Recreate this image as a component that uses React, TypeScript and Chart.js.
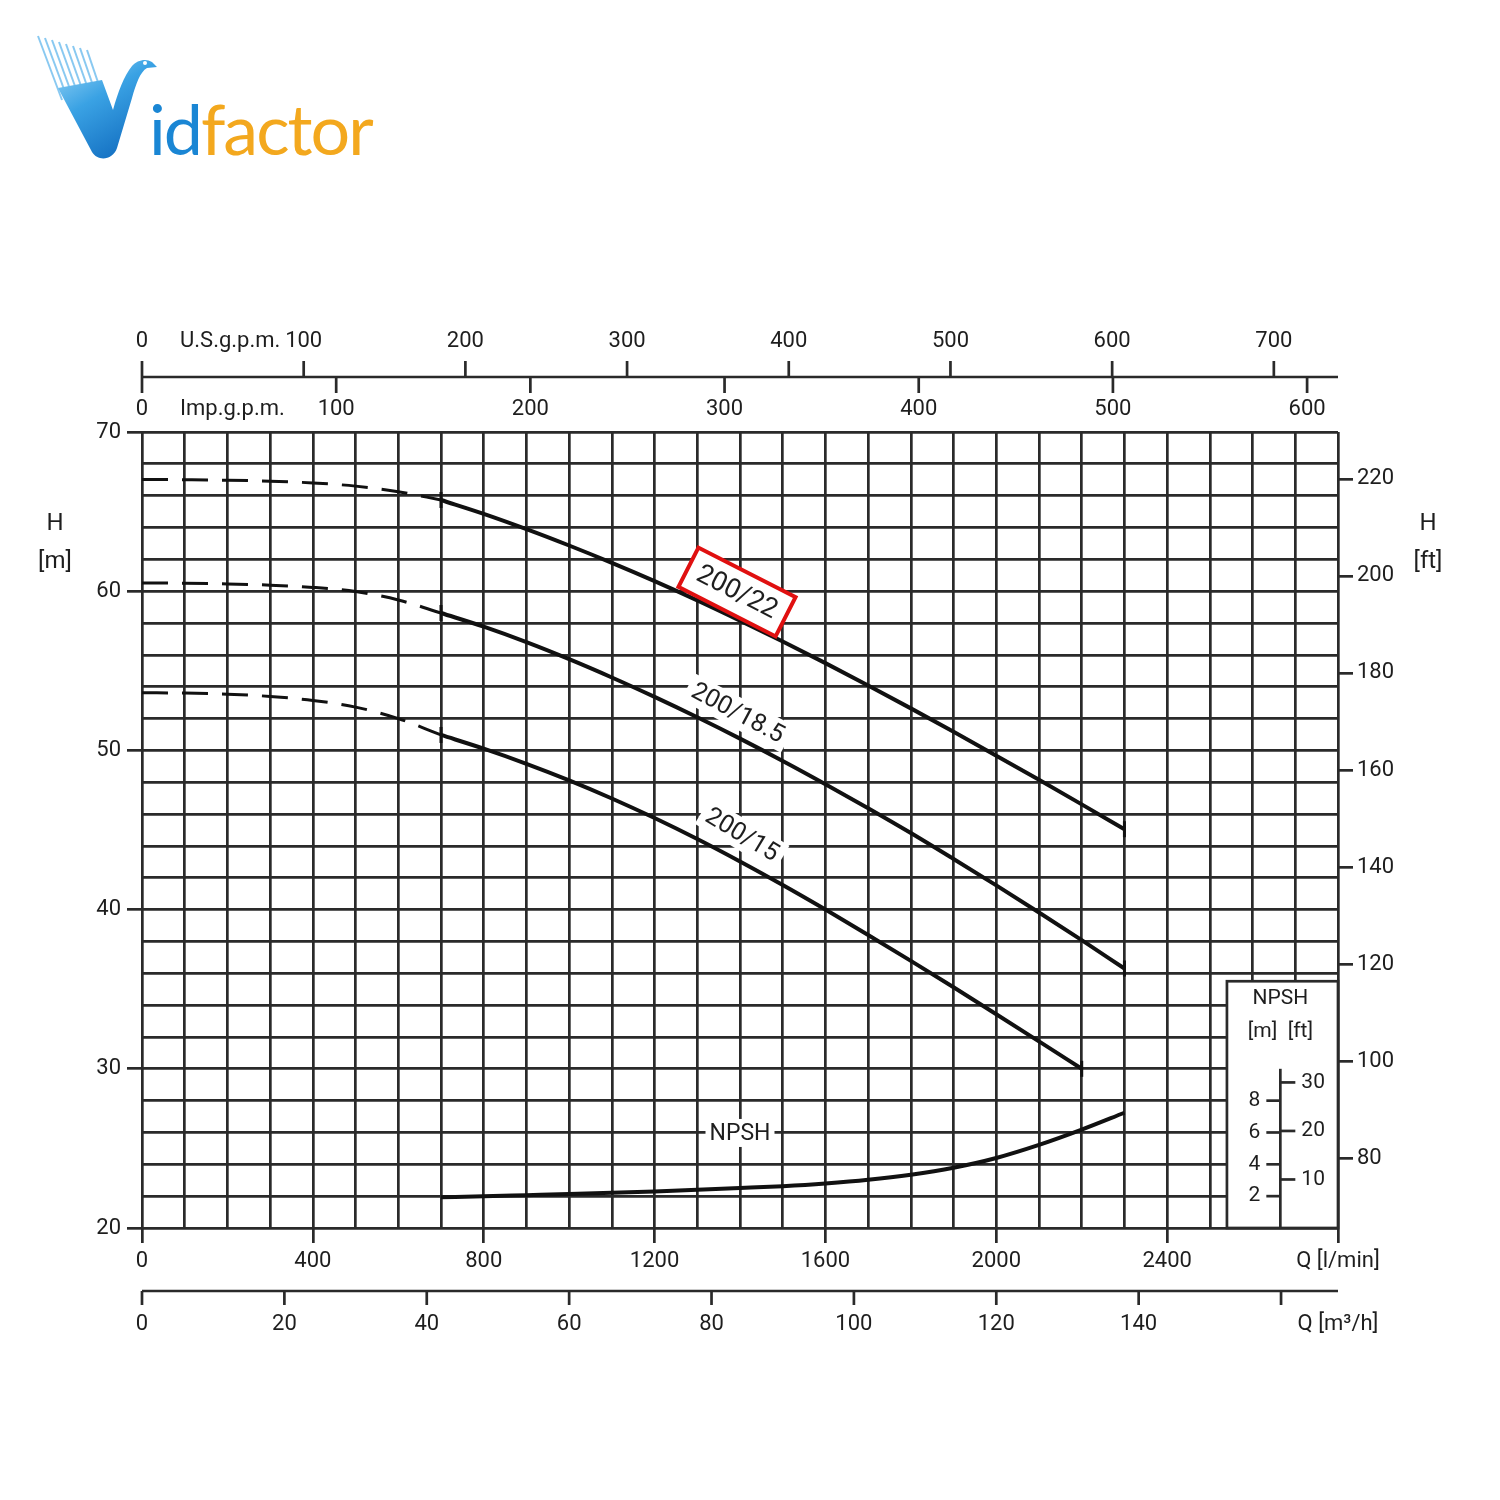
import React, { useEffect, useRef } from "react";
import { Chart, registerables } from "chart.js";

Chart.register(...registerables);

const FONT = "Roboto, 'DejaVu Sans', sans-serif";
const INK = "#1e1e1e";
const GRID = "#2a2a2a";
const GRID_W = 2.7;

// ---- pump curves: Q [l/min] -> H [m] ----
const Q_DASH = [0, 100, 200, 300, 400, 500, 600, 700];
const H_22_DASH = [67.02, 67.0, 66.97, 66.91, 66.8, 66.6, 66.25, 65.73];
const H_185_DASH = [60.52, 60.5, 60.46, 60.38, 60.24, 59.98, 59.45, 58.63];
const H_15_DASH = [53.62, 53.6, 53.53, 53.39, 53.14, 52.72, 52.0, 50.97];

const Q_SOLID = [700, 800, 900, 1000, 1100, 1200, 1300, 1400, 1500, 1600, 1700, 1800, 1900, 2000, 2100, 2200, 2300];
const H_22 = [65.73, 64.86, 63.9, 62.87, 61.78, 60.63, 59.42, 58.15, 56.84, 55.48, 54.08, 52.64, 51.17, 49.67, 48.15, 46.61, 45.05];
const H_185 = [58.63, 57.77, 56.8, 55.73, 54.58, 53.36, 52.08, 50.74, 49.34, 47.88, 46.37, 44.81, 43.18, 41.52, 39.82, 38.08, 36.3];
const Q_SOLID_15 = [700, 800, 900, 1000, 1100, 1200, 1300, 1400, 1500, 1600, 1700, 1800, 1900, 2000, 2100, 2200];
const H_15 = [50.97, 50.11, 49.16, 48.12, 46.98, 45.75, 44.43, 43.02, 41.54, 40.0, 38.41, 36.78, 35.12, 33.43, 31.72, 30.0];

// ---- NPSH [m] ----
const NPSH_Q = [700, 800, 900, 1000, 1100, 1200, 1300, 1400, 1500, 1600, 1700, 1800, 1900, 2000, 2100, 2200, 2300];
const NPSH_M = [1.93, 1.99, 2.06, 2.13, 2.21, 2.3, 2.4, 2.51, 2.63, 2.8, 3.03, 3.35, 3.79, 4.4, 5.22, 6.18, 7.24];

// ---- axes / ticks ----
const Q_MIN = 0;
const Q_MAX = 2800;
const Q_GRID_STEP = 100;
const Q_LABEL_STEP = 400;
const Q_UNIT = "Q [l/min]";
const H_MIN = 20;
const H_MAX = 70;
const H_GRID_STEP = 2;
const H_LABEL_STEP = 10;
const FT_PER_M = 0.3048;
const H_FT_TICKS = [80, 100, 120, 140, 160, 180, 200, 220];
const US_GPM_TICKS = [0, 100, 200, 300, 400, 500, 600, 700];
const IMP_GPM_TICKS = [0, 100, 200, 300, 400, 500, 600];
const M3H_TICKS = [0, 20, 40, 60, 80, 100, 120, 140];
const M3H_EXTRA_TICK = 160;
const US_GPM_L = 3.785411784;
const IMP_GPM_L = 4.54609;
const M3H_L = 1000 / 60;
const NPSH_M_TICKS = [2, 4, 6, 8];
const NPSH_FT_TICKS = [10, 20, 30];
const NPSH_SCALE_TOP = 10;

// ---- annotations (data units) ----
const CURVE_LABELS = [
  { text: "200/22", q: 1393, h: 59.95, angle: 27, boxed: true },
  { text: "200/18.5", q: 1395, h: 52.35, angle: 28, boxed: false },
  { text: "200/15", q: 1405, h: 44.7, angle: 31, boxed: false },
];
const NPSH_LABEL = { text: "NPSH", q: 1400, npsh: 5.97 };
const NPSH_BOX = { qLeft: 2540, hTop: 35.5, qAxis: 2665 };

function pts(qs: number[], hs: number[]) {
  return qs.map((q, i) => ({ x: q, y: hs[i] }));
}

function curve(label: string, qs: number[], hs: number[], dashed: boolean, endTicks: boolean, axis = "y") {
  return {
    label,
    data: pts(qs, hs),
    yAxisID: axis,
    borderColor: "#111",
    backgroundColor: "#111",
    borderWidth: dashed ? 3 : 4,
    borderDash: dashed ? [26, 14] : [],
    cubicInterpolationMode: "monotone",
    fill: false,
    pointStyle: "line",
    rotation: 90,
    pointBorderWidth: 3,
    pointBorderColor: "#111",
    pointRadius: endTicks ? qs.map((_, i) => (i === 0 || i === qs.length - 1 ? 8 : 0)) : 0,
    pointHoverRadius: 0,
  };
}

const overlay = {
  id: "overlay",
  beforeDatasetsDraw(chart: any) {
    const { ctx, chartArea: a } = chart;
    const x = chart.scales.x;
    const y = chart.scales.y;
    const n = chart.scales.npsh;
    // NPSH inset box
    const l = x.getPixelForValue(NPSH_BOX.qLeft);
    const t = y.getPixelForValue(NPSH_BOX.hTop);
    ctx.save();
    ctx.fillStyle = "#fff";
    ctx.fillRect(l, t, a.right - l, a.bottom - t);
    ctx.strokeStyle = GRID;
    ctx.lineWidth = GRID_W;
    ctx.strokeRect(l, t, a.right - l, a.bottom - t);
    // inset scale
    const ax = x.getPixelForValue(NPSH_BOX.qAxis);
    ctx.beginPath();
    ctx.moveTo(ax, n.getPixelForValue(0));
    ctx.lineTo(ax, n.getPixelForValue(NPSH_SCALE_TOP));
    ctx.stroke();
    ctx.fillStyle = INK;
    ctx.font = `21px ${FONT}`;
    ctx.textBaseline = "middle";
    NPSH_M_TICKS.forEach((v) => {
      const py = n.getPixelForValue(v);
      ctx.beginPath();
      ctx.moveTo(ax - 14, py);
      ctx.lineTo(ax, py);
      ctx.stroke();
      ctx.textAlign = "right";
      ctx.fillText(String(v), ax - 20, py);
    });
    NPSH_FT_TICKS.forEach((v) => {
      const py = n.getPixelForValue(v * FT_PER_M);
      ctx.beginPath();
      ctx.moveTo(ax, py);
      ctx.lineTo(ax + 15, py);
      ctx.stroke();
      ctx.textAlign = "left";
      ctx.fillText(String(v), ax + 21, py);
    });
    ctx.textAlign = "center";
    ctx.fillText("NPSH", ax, t + 18);
    ctx.fillText("[m]  [ft]", ax, t + 51);
    ctx.restore();
  },
  afterDatasetsDraw(chart: any) {
    const { ctx } = chart;
    const x = chart.scales.x;
    const y = chart.scales.y;
    const n = chart.scales.npsh;
    ctx.save();
    ctx.textAlign = "center";
    ctx.textBaseline = "middle";
    CURVE_LABELS.forEach((c) => {
      const px = x.getPixelForValue(c.q);
      const py = y.getPixelForValue(c.h);
      ctx.save();
      ctx.translate(px, py);
      ctx.rotate((c.angle * Math.PI) / 180);
      ctx.font = `${c.boxed ? 27 : 25}px ${FONT}`;
      const w = ctx.measureText(c.text).width;
      ctx.fillStyle = "#fff";
      if (c.boxed) {
        const bw = w + 22;
        ctx.fillRect(-bw / 2, -22, bw, 44);
        ctx.strokeStyle = "#e01010";
        ctx.lineWidth = 4;
        ctx.strokeRect(-bw / 2, -22, bw, 44);
      } else {
        ctx.fillRect(-w / 2 - 6, -15, w + 12, 30);
      }
      ctx.fillStyle = INK;
      ctx.fillText(c.text, 0, 1);
      ctx.restore();
    });
    // NPSH label
    const px = x.getPixelForValue(NPSH_LABEL.q);
    const py = n.getPixelForValue(NPSH_LABEL.npsh);
    ctx.font = `23px ${FONT}`;
    const w = ctx.measureText(NPSH_LABEL.text).width;
    ctx.fillStyle = "#fff";
    ctx.fillRect(px - w / 2 - 4, py - 14, w + 8, 28);
    ctx.fillStyle = INK;
    ctx.fillText(NPSH_LABEL.text, px, py + 1);
    ctx.restore();
  },
  afterDraw(chart: any) {
    const { ctx, chartArea: a } = chart;
    const x = chart.scales.x;
    ctx.save();
    ctx.strokeStyle = GRID;
    ctx.lineWidth = GRID_W;
    ctx.fillStyle = INK;
    ctx.font = `22px ${FONT}`;
    ctx.textBaseline = "middle";
    // top: U.S.g.p.m. (above) and Imp.g.p.m. (below)
    const yTop = a.top - 55;
    const x0 = x.getPixelForValue(0);
    ctx.beginPath();
    ctx.moveTo(x0, yTop);
    ctx.lineTo(a.right, yTop);
    ctx.stroke();
    US_GPM_TICKS.forEach((v) => {
      const px = x.getPixelForValue(v * US_GPM_L);
      ctx.beginPath();
      ctx.moveTo(px, yTop);
      ctx.lineTo(px, yTop - 16);
      ctx.stroke();
      ctx.textAlign = "center";
      ctx.fillText(String(v), px, yTop - 36);
    });
    IMP_GPM_TICKS.forEach((v) => {
      const px = x.getPixelForValue(v * IMP_GPM_L);
      ctx.beginPath();
      ctx.moveTo(px, yTop);
      ctx.lineTo(px, yTop + 16);
      ctx.stroke();
      ctx.textAlign = "center";
      ctx.fillText(String(v), px, yTop + 32);
    });
    ctx.textAlign = "left";
    ctx.fillText("U.S.g.p.m.", x0 + 38, yTop - 36);
    ctx.fillText("Imp.g.p.m.", x0 + 38, yTop + 32);
    // bottom: m3/h
    const yBot = a.bottom + 63;
    ctx.beginPath();
    ctx.moveTo(x0, yBot);
    ctx.lineTo(a.right, yBot);
    ctx.stroke();
    [...M3H_TICKS, M3H_EXTRA_TICK].forEach((v) => {
      const px = x.getPixelForValue(v * M3H_L);
      ctx.beginPath();
      ctx.moveTo(px, yBot);
      ctx.lineTo(px, yBot + 14);
      ctx.stroke();
    });
    ctx.textAlign = "center";
    M3H_TICKS.forEach((v) => {
      ctx.fillText(String(v), x.getPixelForValue(v * M3H_L), yBot + 33);
    });
    ctx.fillText("Q [m³/h]", a.right, yBot + 33);
    ctx.restore();
  },
};

function Logo() {
  const streaks = [0, 1, 2, 3, 4, 5, 6, 7];
  return (
    <div style={{ position: "absolute", left: 0, top: 0, width: 420, height: 200 }}>
      <svg width={420} height={200} style={{ position: "absolute", left: 0, top: 0 }}>
        <defs>
          <linearGradient id="vg" x1="0" y1="0" x2="0.6" y2="1">
            <stop offset="0" stopColor="#9ad6f6" />
            <stop offset="0.45" stopColor="#3aa2e4" />
            <stop offset="1" stopColor="#1470c2" />
          </linearGradient>
        </defs>
        {streaks.map((i) => (
          <line
            key={i}
            x1={38 + i * 7}
            y1={36 + i * 2}
            x2={62 + i * 6}
            y2={100}
            stroke="#6cbcee"
            strokeWidth={2}
            opacity={0.8}
          />
        ))}
        <path
          d="M 58 88 L 102 80 L 113 110 C 118 92 124 76 132 66 C 137 60 146 58 152 62 L 157 67 L 147 68 C 140 72 136 84 132 98 L 117 148 C 113 160 98 162 92 152 Z"
          fill="url(#vg)"
        />
        <circle cx={145} cy={63} r={2} fill="#fff" />
      </svg>
      <div
        style={{
          position: "absolute",
          left: 149,
          top: 93,
          font: "400 70px Lato, sans-serif",
          lineHeight: "70px",
          letterSpacing: -2,
          whiteSpace: "nowrap",
        }}
      >
        <span style={{ color: "#1a86d4" }}>id</span>
        <span style={{ color: "#f3a81e" }}>factor</span>
      </div>
    </div>
  );
}

export default function App() {
  const ref = useRef<HTMLCanvasElement>(null);

  useEffect(() => {
    const canvas = ref.current;
    if (!canvas) return;
    Chart.defaults.font.family = FONT;
    Chart.defaults.color = INK;
    const datasets: any[] = [
      curve("200/22 (extrapolated)", Q_DASH, H_22_DASH, true, false),
      curve("200/22", Q_SOLID, H_22, false, true),
      curve("200/18.5 (extrapolated)", Q_DASH, H_185_DASH, true, false),
      curve("200/18.5", Q_SOLID, H_185, false, true),
      curve("200/15 (extrapolated)", Q_DASH, H_15_DASH, true, false),
      curve("200/15", Q_SOLID_15, H_15, false, true),
      curve("NPSH", NPSH_Q, NPSH_M, false, false, "npsh"),
    ];
    const tickFont = { family: FONT, size: 22 };
    const chart = new Chart(canvas, {
      type: "line",
      data: { datasets },
      options: {
        responsive: false,
        animation: false,
        devicePixelRatio: 1,
        layout: { padding: { top: 432, left: 0, right: 0, bottom: 0 } },
        plugins: { legend: { display: false }, tooltip: { enabled: false } },
        events: [],
        scales: {
          x: {
            type: "linear",
            position: "bottom",
            min: Q_MIN,
            max: Q_MAX,
            ticks: {
              stepSize: Q_GRID_STEP,
              autoSkip: false,
              maxRotation: 0,
              padding: 5,
              color: INK,
              font: tickFont,
              callback: (v: any) => (v === Q_MAX ? Q_UNIT : v % Q_LABEL_STEP === 0 ? String(v) : ""),
            },
            grid: {
              color: GRID,
              lineWidth: GRID_W,
              tickLength: 15,
              tickColor: (c: any) =>
                c.tick && (c.tick.value % Q_LABEL_STEP === 0 || c.tick.value === Q_MAX) ? GRID : "rgba(0,0,0,0)",
            },
            border: { display: false },
            afterFit: (s: any) => {
              s.height = 272;
            },
          },
          y: {
            type: "linear",
            position: "left",
            min: H_MIN,
            max: H_MAX,
            ticks: {
              stepSize: H_GRID_STEP,
              autoSkip: false,
              padding: 6,
              color: INK,
              font: tickFont,
              callback: (v: any) => (v % H_LABEL_STEP === 0 ? String(v) : ""),
            },
            grid: {
              color: GRID,
              lineWidth: GRID_W,
              tickLength: 15,
              tickColor: (c: any) => (c.tick && c.tick.value % H_LABEL_STEP === 0 ? GRID : "rgba(0,0,0,0)"),
            },
            border: { display: false },
            afterFit: (s: any) => {
              s.width = 142;
            },
          },
          yft: {
            type: "linear",
            position: "right",
            min: H_MIN / FT_PER_M,
            max: H_MAX / FT_PER_M,
            afterBuildTicks: (s: any) => {
              s.ticks = H_FT_TICKS.map((v) => ({ value: v }));
            },
            ticks: { padding: 4, color: INK, font: tickFont, autoSkip: false },
            grid: { drawOnChartArea: false, color: GRID, lineWidth: GRID_W, tickLength: 15 },
            border: { display: false },
            afterFit: (s: any) => {
              s.width = 162;
            },
          },
          npsh: {
            type: "linear",
            display: false,
            min: H_MIN - H_MIN,
            max: H_MAX - H_MIN,
          },
        },
      } as any,
      plugins: [overlay],
    });
    return () => chart.destroy();
  }, []);

  const title: React.CSSProperties = {
    position: "absolute",
    width: 60,
    textAlign: "center",
    font: `24px ${FONT}`,
    lineHeight: "38px",
    color: INK,
  };

  return (
    <div style={{ position: "absolute", left: 0, top: 0, width: 1500, height: 1500, background: "#fff", overflow: "hidden" }}>
      <Logo />
      <canvas ref={ref} width={1500} height={1500} style={{ position: "absolute", left: 0, top: 0 }} />
      <div style={{ ...title, left: 25, top: 503 }}>
        H<br />[m]
      </div>
      <div style={{ ...title, left: 1398, top: 503 }}>
        H<br />[ft]
      </div>
    </div>
  );
}
